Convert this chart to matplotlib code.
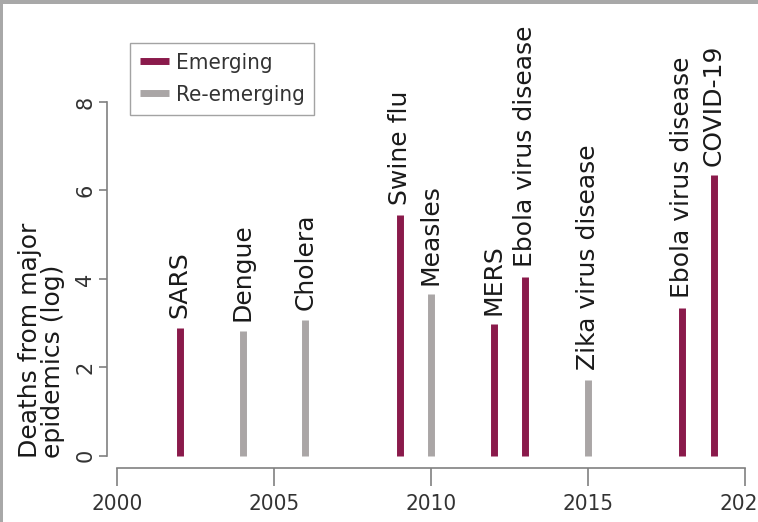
import matplotlib
matplotlib.use("Agg")
import matplotlib.pyplot as plt
from matplotlib import font_manager
from matplotlib.patches import Rectangle

# Dados das epidemias
anos = [2002, 2004, 2006, 2009, 2010, 2012, 2013, 2015, 2018, 2019]
mortes_log = [2.89, 2.82, 3.07, 5.45, 3.65, 2.97, 4.05, 1.71, 3.35, 6.34]
nomes = ["SARS", "Dengue", "Cholera", "Swine flu", "Measles", "MERS",
         "Ebola virus disease", "Zika virus disease", "Ebola virus disease", "COVID-19"]
tipo = ["Emerging", "Re-emerging", "Re-emerging", "Emerging", "Re-emerging",
        "Emerging", "Emerging", "Re-emerging", "Emerging", "Emerging"]
y_ticks = [0, 2, 4, 6, 8]
x_ticks = [2000, 2005, 2010, 2015, 2020]

cores = {"Emerging": "#8a1a4b", "Re-emerging": "#aaa6a6"}

# fonte estreita para os anos e a legenda, se existir
arq_estreita = None
for f in font_manager.fontManager.ttflist:
    if f.name == "DejaVu Sans" and f.stretch == "condensed" and f.style == "normal" \
            and f.weight in (400, "normal"):
        arq_estreita = f.fname
        break
if arq_estreita is None:
    for f in font_manager.fontManager.ttflist:
        if "Narrow" in f.name or "Condensed" in f.name:
            arq_estreita = f.fname
            break


def fonte_estreita(size):
    if arq_estreita:
        return font_manager.FontProperties(fname=arq_estreita, size=size)
    return font_manager.FontProperties(family="DejaVu Sans", size=size)


W, H = 758, 522
fig = plt.figure(figsize=(W / 100, H / 100), dpi=100)
ax = fig.add_axes([0, 0, 1, 1])
ax.patch.set_alpha(0)

# escala em pixels: x = 117 + (ano-2000)*31.4 ; y = 455.7 - v*44.2
px_ano, px_v = 31.4, 44.2
ax.set_xlim(2000 - 117 / px_ano, 2000 + (W - 117) / px_ano)
ax.set_ylim(-(H - 455.7) / px_v, 455.7 / px_v)

for k in ["Emerging", "Re-emerging"]:
    xs = [a for a, t in zip(anos, tipo) if t == k]
    vs = [v for v, t in zip(mortes_log, tipo) if t == k]
    ax.vlines(xs, 0, vs, colors=cores[k], linewidth=5, label=k)

for a, v, n in zip(anos, mortes_log, nomes):
    ax.annotate(n, (a, v), xytext=(0, 7), textcoords="offset points",
                rotation=90, ha="center", va="bottom", fontsize=18,
                color="#1a1a1a", family="DejaVu Sans")

# eixos no estilo do R
for s in ["top", "right"]:
    ax.spines[s].set_visible(False)
ax.spines["left"].set_position(("data", 2000 - 10 / px_ano))
ax.spines["left"].set_bounds(0, 8)
ax.spines["bottom"].set_position(("data", -12.3 / px_v))
ax.spines["bottom"].set_bounds(2000, 2020)
for s in ["left", "bottom"]:
    ax.spines[s].set_color("#808080")
    ax.spines[s].set_linewidth(1.2)

ax.set_yticks(y_ticks)
ax.set_xticks(x_ticks)
ax.tick_params(axis="y", length=5.8, width=1.2, color="#808080", pad=2.5,
               labelrotation=90, labelsize=15, labelcolor="#333333")
ax.tick_params(axis="x", length=13, width=1.2, color="#808080", pad=5.5,
               labelcolor="#333333")
for lb in ax.get_yticklabels():
    lb.set_va("center")
for lb in ax.get_xticklabels():
    lb.set_fontproperties(fonte_estreita(16))

ax.text(2000 + (41.5 - 117) / px_ano, -0.05, "Deaths from major\nepidemics (log)",
        rotation=90, ha="center", va="bottom", multialignment="left",
        linespacing=0.95, fontsize=18, color="#1a1a1a", family="DejaVu Sans")

leg = ax.legend(loc="upper left", bbox_to_anchor=(130 / W, 1 - 43 / H),
                bbox_transform=fig.transFigure, borderaxespad=0, fancybox=False,
                frameon=True, edgecolor="#8c8c8c", handlelength=1.3,
                handletextpad=0.3, borderpad=0.45, labelspacing=0.55,
                prop=fonte_estreita(16))
leg.get_frame().set_linewidth(1.0)
for t in leg.get_texts():
    t.set_color("#333333")

# moldura cinza da captura
fig.add_artist(Rectangle((0, 1 - 4 / H), 1, 4 / H, transform=fig.transFigure,
                         color="#a8a8a8", lw=0))
fig.add_artist(Rectangle((0, 0), 2.5 / W, 1, transform=fig.transFigure,
                         color="#a8a8a8", lw=0))

fig.savefig("out.png", dpi=100)
